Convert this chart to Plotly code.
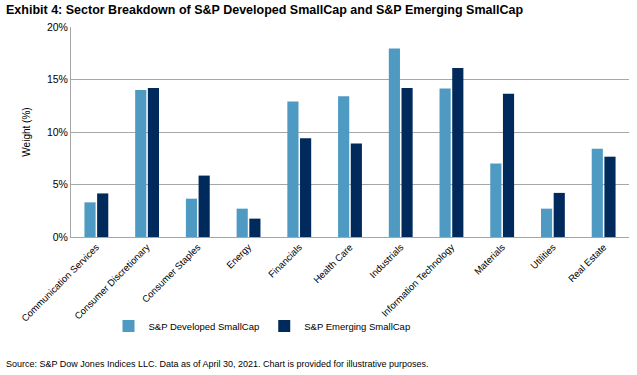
import plotly.graph_objects as go

categories = ["Communication Services", "Consumer Discretionary", "Consumer Staples", "Energy",
              "Financials", "Health Care", "Industrials", "Information Technology",
              "Materials", "Utilities", "Real Estate"]
developed = [3.3, 14.0, 3.65, 2.7, 12.9, 13.4, 17.95, 14.15, 7.0, 2.7, 8.4]
emerging = [4.15, 14.2, 5.85, 1.75, 9.4, 8.9, 14.2, 16.1, 13.65, 4.2, 7.65]
y_ticks = [0, 5, 10, 15, 20]
y_tick_labels = ["0%", "5%", "10%", "15%", "20%"]

FONT = "Liberation Sans, Arial, sans-serif"
W, H = 637, 375
L, R, T, B = 71, 8, 27, 138
PW, PH = W - L - R, H - T - B

fig = go.Figure()
fig.add_trace(go.Bar(x=categories, y=developed, name="S&P Developed SmallCap",
                     marker=dict(color="#4F9AC2", line=dict(width=0))))
fig.add_trace(go.Bar(x=categories, y=emerging, name="S&P Emerging SmallCap",
                     marker=dict(color="#002A5C", line=dict(width=0))))

fig.update_layout(
    width=W, height=H,
    margin=dict(l=L, r=R, t=T, b=B, autoexpand=False),
    paper_bgcolor="white", plot_bgcolor="white",
    font=dict(family=FONT, size=11, color="black"),
    barmode="group", bargap=0.5, bargroupgap=0.12,
    showlegend=True,
    legend=dict(orientation="h", x=262 / W, xanchor="center", xref="container",
                y=(H - 326) / H, yanchor="middle", yref="container",
                font=dict(size=9.5), traceorder="normal", itemwidth=30,
                bgcolor="rgba(0,0,0,0)"),
    annotations=[
        dict(text="<b>Exhibit 4: Sector Breakdown of S&P Developed SmallCap and S&P Emerging SmallCap</b>",
             x=-(L - 4) / PW, y=1 + (T - 10) / PH, xref="paper", yref="paper", showarrow=False,
             xanchor="left", yanchor="middle", font=dict(size=12.5, family=FONT)),
        dict(text="Source: S&P Dow Jones Indices LLC. Data as of April 30, 2021. Chart is provided for illustrative purposes.",
             x=-(L - 4) / PW, y=-(364 - (T + PH)) / PH, xref="paper", yref="paper", showarrow=False,
             xanchor="left", yanchor="middle", font=dict(size=9, family=FONT)),
    ],
)

fig.update_xaxes(tickangle=-45, showline=True, linecolor="#A6A6A6", linewidth=1,
                 ticks="", tickfont=dict(size=9.5), showgrid=False, automargin=False)
fig.update_yaxes(range=[0, 20], tickvals=y_ticks, ticktext=y_tick_labels,
                 showgrid=True, gridcolor="#A6A6A6", gridwidth=1,
                 showline=True, linecolor="#A6A6A6", linewidth=1, ticks="",
                 zeroline=False, tickfont=dict(size=10.5), automargin=False,
                 title=dict(text="Weight (%)", font=dict(size=10), standoff=14))

fig.write_html("out.html", config={"displayModeBar": False},
               post_script="document.body.style.margin='0';document.body.style.padding='0';")
